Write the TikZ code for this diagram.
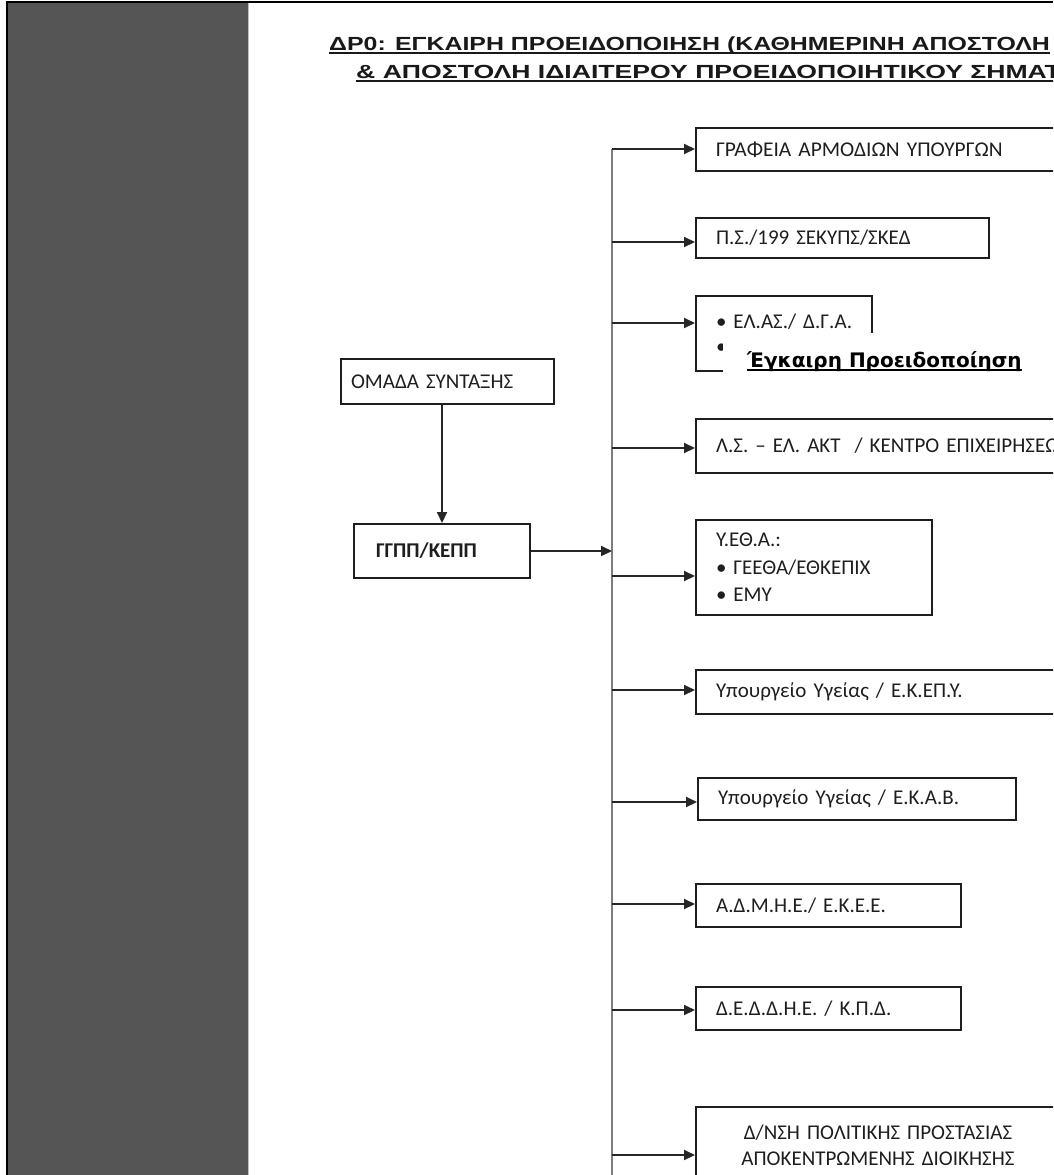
\documentclass[tikz,border=0pt]{standalone}
\usepackage{fontspec}
\usepackage{graphicx}
\setmainfont{Carlito}
\newfontfamily\titlefont{Liberation Sans}
\newfontfamily\notefont{DejaVu Sans}
\usetikzlibrary{arrows.meta}

\definecolor{bandgray}{RGB}{85,85,85}
\definecolor{busgray}{RGB}{125,125,125}
\definecolor{inkgray}{RGB}{30,30,30}

% underline sitting just under the baseline
\newcommand{\baseul}[1]{\setbox0\hbox{#1}\rlap{\rule[-4pt]{\wd0}{1.8pt}}\box0}

\tikzset{
  box/.style={draw=inkgray, line width=2pt, anchor=north west, align=left,
    inner xsep=20pt, inner ysep=0pt, text=inkgray,
    font=\fontsize{21}{26}\selectfont},
  arr/.style={-{Triangle[length=11pt,width=10pt]}, line width=2pt, draw=black!85},
  busline/.style={line width=2pt, draw=busgray},
  titletext/.style={anchor=base west, inner sep=0pt, text=black!90,
    font=\titlefont\bfseries\fontsize{19}{19}\selectfont}
}

\begin{document}
\begin{tikzpicture}[x=1pt,y=-1pt]
  \useasboundingbox (0,0) rectangle (1053,1175);
  \clip (0,0) rectangle (1053,1175);

  % side band and frame
  \fill[bandgray] (8,3) rectangle (248,1175);
  \draw[black, line width=2pt] (7,1175) -- (7,2) -- (1053,2);
  \draw[black!25, line width=1pt] (248.5,3) -- (248.5,1175);

  \node [titletext] (t1) at (329,50)
  {\scalebox{1.31}[1]{\baseul{ΔΡ0: ΕΓΚΑΙΡΗ ΠΡΟΕΙΔΟΠΟΙΗΣΗ (ΚΑΘΗΜΕΡΙΝΗ ΑΠΟΣΤΟΛΗ}}};
  \node [titletext] (t2) at (356,78)
  {\scalebox{1.40}[1]{\baseul{\& ΑΠΟΣΤΟΛΗ ΙΔΙΑΙΤΕΡΟΥ ΠΡΟΕΙΔΟΠΟΙΗΤΙΚΟΥ ΣΗΜΑΤ}}};

  % left side
  \node [box, inner xsep=10pt, text width=193pt, minimum height=45pt]
  (om) at (340,358) {ΟΜΑΔΑ ΣΥΝΤΑΞΗΣ};

  \node [box, inner xsep=22pt, text width=132pt, minimum height=54pt,
  font=\bfseries\fontsize{21}{26}\selectfont] (gg) at (353,523) {ΓΓΠΠ/ΚΕΠΠ};

  % receivers
  \node [box, text width=365pt, minimum height=43pt] (g1) at (695,127)
  {\scalebox{1.02}[1]{ΓΡΑΦΕΙΑ ΑΡΜΟΔΙΩΝ ΥΠΟΥΡΓΩΝ}};

  \node [box, text width=253pt, minimum height=40pt] (g2) at (695,217)
  {Π.Σ./199 ΣΕΚΥΠΣ/ΣΚΕΔ};

  \node [box, text width=136pt, minimum height=75pt, font=\fontsize{21}{25}\selectfont]
  (g3) at (695,295) {\mbox{•\hspace{7pt}ΕΛ.ΑΣ./ Δ.Γ.Α.}\\ •};

  \node [box, text width=365pt, minimum height=54pt] (g4) at (695,418)
  {Λ.Σ. – ΕΛ. ΑΚΤ~ / ΚΕΝΤΡΟ ΕΠΙΧΕΙΡΗΣΕΩ};

  \node [box, text width=196pt, minimum height=95pt, font=\fontsize{21}{27.5}\selectfont]
  (g5) at (695,519) {Υ.ΕΘ.Α.:\\ \mbox{•\hspace{7pt}ΓΕΕΘΑ/ΕΘΚΕΠΙΧ}\\ \mbox{•\hspace{7pt}ΕΜΥ}};

  \node [box, text width=365pt, minimum height=44pt] (g6) at (695,669)
  {Υπουργείο Υγείας / Ε.Κ.ΕΠ.Υ.};

  \node [box, text width=278pt, minimum height=42pt] (g7) at (697,777)
  {Υπουργείο Υγείας / Ε.Κ.Α.Β.};

  \node [box, text width=225pt, minimum height=43pt] (g8) at (695,883)
  {Α.Δ.Μ.Η.Ε./ Ε.Κ.Ε.Ε.};

  \node [box, text width=225pt, minimum height=43pt] (g9) at (695,986)
  {Δ.Ε.Δ.Δ.Η.Ε. / Κ.Π.Δ.};

  \node [box, align=center, text width=324pt, minimum height=76pt] (g10) at (695,1106)
  {Δ/ΝΣΗ ΠΟΛΙΤΙΚΗΣ ΠΡΟΣΤΑΣΙΑΣ\\ ΑΠΟΚΕΝΤΡΩΜΕΝΗΣ ΔΙΟΙΚΗΣΗΣ};

  % bus and arrows
  \coordinate (btop) at (612,149);
  \coordinate (bbot) at (612,1180);
  \draw [busline] (btop) -- (bbot);

  \draw [arr] (om.south -| gg.north) -- (gg.north);
  \draw [arr] (gg.east) -- (gg.east -| btop);

  \foreach \n/\y in {g1/149, g2/242, g3/323, g4/448, g5/576,
    g6/690, g7/802, g8/904, g9/1010, g10/1155} {
    \coordinate (b\n) at (612,\y);
    \draw [arr] (b\n) -- (b\n -| \n.west);
  }

  % label pasted over the third box
  \fill [white] (723,333) rectangle (1050,378);
  \node [anchor=base west, inner sep=0pt, text=black,
  font=\notefont\bfseries\fontsize{20}{20}\selectfont] (ek) at (747,367)
  {\baseul{Έγκαιρη Προειδοποίηση}};
\end{tikzpicture}
\end{document}
